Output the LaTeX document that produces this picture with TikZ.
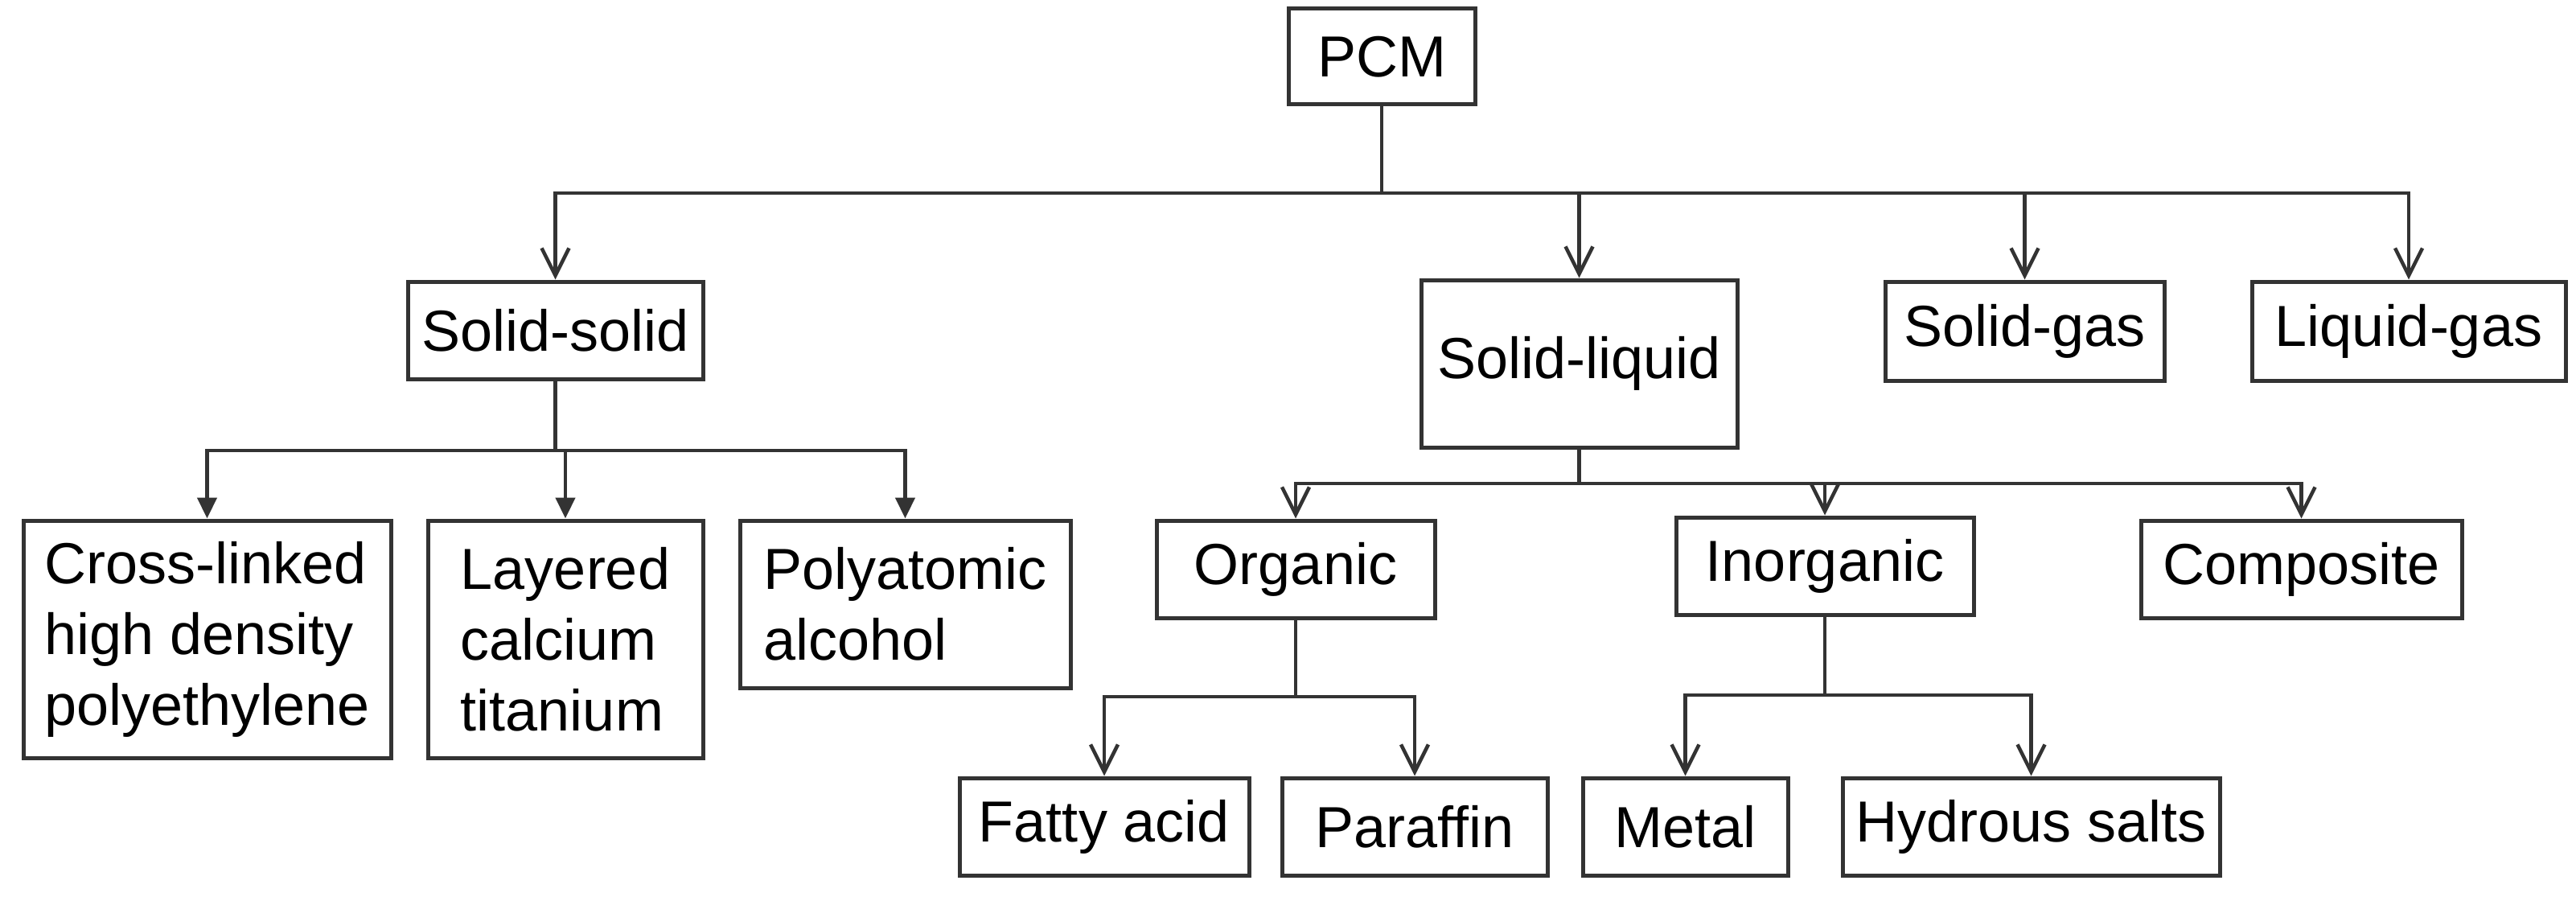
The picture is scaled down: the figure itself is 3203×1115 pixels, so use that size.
\documentclass[tikz,border=0pt]{standalone}
\usepackage{fontspec}
\setmainfont{Liberation Sans}
\usetikzlibrary{arrows.meta}
\tikzset{
  box/.style={draw=black!80, line width=5pt, inner sep=0pt, align=left, font=\fontsize{72}{88}\selectfont},
  ln/.style={draw=black!80, line width=4.5pt},
  oa/.style={ln, -{Straight Barb[length=34pt,width=34pt,line width=4.5pt]}},
  fa/.style={ln, -{Triangle[length=26pt,width=24pt]}},
}
\newcommand\bx[6]{\node[box, minimum width={(#4-#2)*1pt}, minimum height={(#5-#3)*1pt}] (#1) at ({(#2+#4)/2},{(#3+#5)/2}) {#6};}
\begin{document}
\begin{tikzpicture}[x=1pt,y=-1pt]
\useasboundingbox (0,0) rectangle (3203,1115);
\bx{pcm}{1602}{11}{1834}{130}{PCM}
\bx{ss}{507}{350}{874}{471}{Solid-solid}
\bx{sl}{1767}{348}{2160}{556}{Solid-liquid}
\bx{sg}{2344}{350}{2691}{473}{Solid-gas}
\bx{lg}{2800}{350}{3190}{473}{Liquid-gas}
\bx{cl}{29}{647}{486}{942}{Cross-linked\\high density\\polyethylene}
\bx{la}{532}{647}{874}{942}{Layered\\calcium\\titanium}
\bx{pa}{920}{647}{1331}{855}{Polyatomic\\alcohol}
\bx{or}{1438}{647}{1784}{768}{Organic}
\bx{in}{2084}{643}{2454}{764}{Inorganic}
\bx{co}{2662}{647}{3061}{768}{Composite}
\bx{fa}{1193}{967}{1553}{1088}{Fatty acid}
\bx{pf}{1594}{967}{1924}{1088}{Paraffin}
\bx{me}{1968}{967}{2223}{1088}{Metal}
\bx{hs}{2291}{967}{2760}{1088}{Hydrous salts}
% top level
\coordinate (b0) at (1718,240);
\draw[ln] (pcm.south) -- (b0);
\draw[oa] (b0) -| (ss.north);
\draw[oa] (b0) -| (sl.north);
\draw[oa] (b0) -| (sg.north);
\draw[oa] (b0) -| (lg.north);
% solid-solid
\coordinate (b1) at (ss.south |- 0,560);
\draw[ln] (ss.south) -- (b1);
\draw[fa] (b1) -| (cl.north);
\draw[fa] (b1) -| (la.north);
\draw[fa] (b1) -| (pa.north);
% solid-liquid
\coordinate (b2) at (sl.south |- 0,601);
\draw[ln] (sl.south) -- (b2);
\draw[oa] (b2) -| (or.north);
\draw[oa] (b2) -| (in.north);
\draw[oa] (b2) -| (co.north);
% organic
\coordinate (b3) at (or.south |- 0,866);
\draw[ln] (or.south) -- (b3);
\draw[oa] (b3) -| (fa.north);
\draw[oa] (b3) -| (pf.north);
% inorganic
\coordinate (b4) at (in.south |- 0,864);
\draw[ln] (in.south) -- (b4);
\draw[oa] (b4) -| (me.north);
\draw[oa] (b4) -| (hs.north);
\end{tikzpicture}
\end{document}
